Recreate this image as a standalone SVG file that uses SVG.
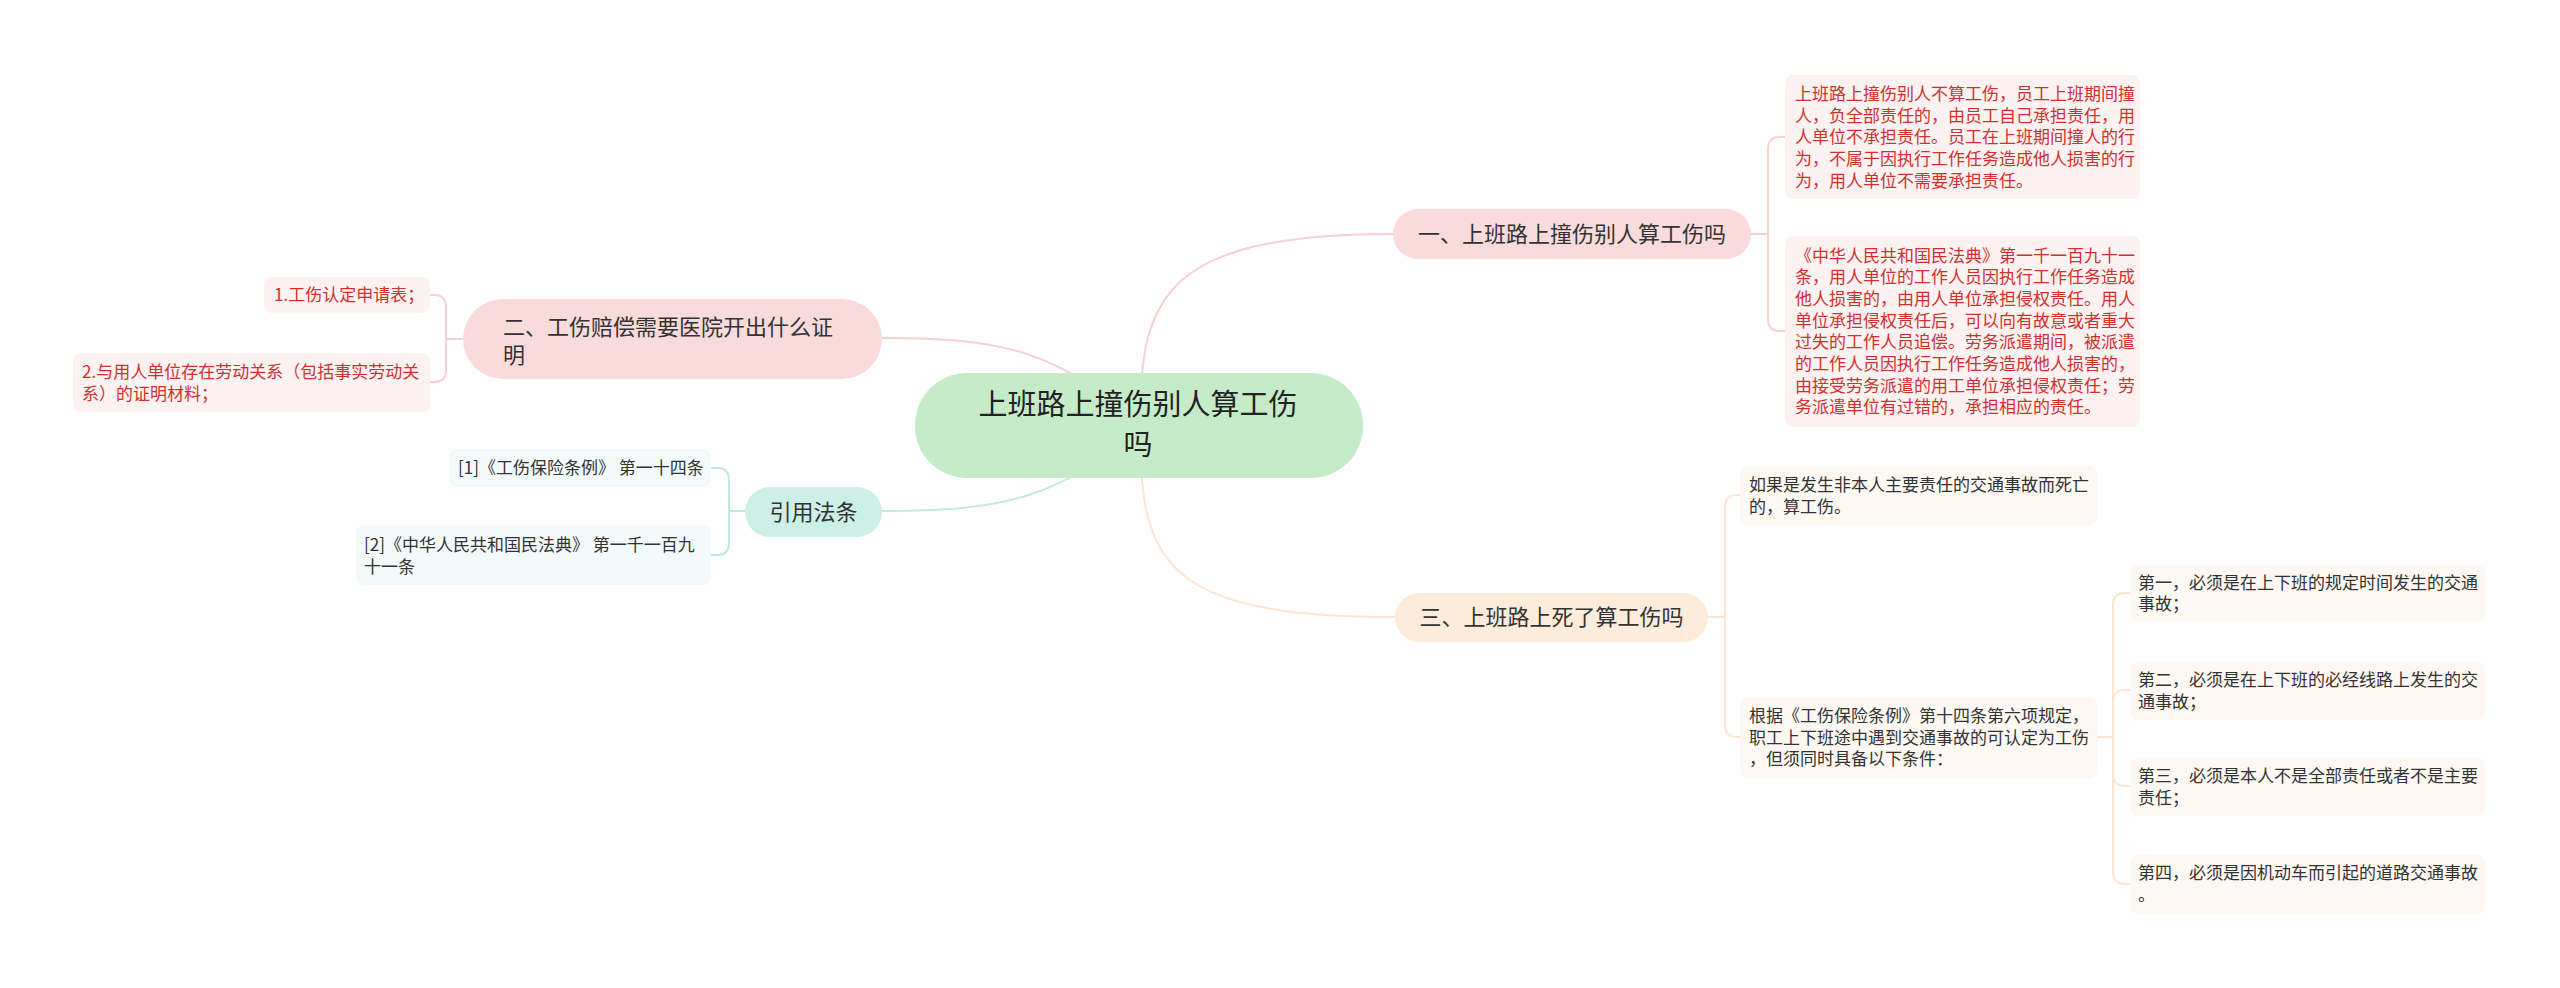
<svg xmlns="http://www.w3.org/2000/svg" width="2560" height="988" viewBox="0 0 2560 988">
<style>
text{font-family:"Noto Sans CJK SC","Noto Sans",sans-serif;}
.main{font-size:22px;fill:#333333;}
.root{font-size:29px;fill:#222222;}
.leaf{font-size:17px;fill:#333333;}
.red{font-size:17px;fill:#d0312d;}
.lp{fill:#fdf2f2;}
.lc{fill:#fdf8f2;}
.lt{fill:#f3fafa;}
.cp{fill:none;stroke:#f7d0d0;stroke-width:2;}
.cc{fill:none;stroke:#bfe9e1;stroke-width:2;}
.co{fill:none;stroke:#fce6d0;stroke-width:2;}
</style>
<rect width="2560" height="988" fill="#ffffff"/>
<g id="connectors">
<path class="cp" d="M1140,426 C1140,300 1160,234 1393,234"/>
<path class="cp" d="M882,338 C1000,338 1060,350 1139,426"/>
<path class="cc" d="M882,511 C1000,511 1060,500 1139,426"/>
<path class="co" d="M1140,426 C1140,560 1160,617 1395,617"/>
<path class="cp" d="M1751,234 H1768 V149 Q1768,137 1780,137 H1785"/>
<path class="cp" d="M1751,234 H1768 V319 Q1768,331 1780,331 H1785"/>
<path class="cp" d="M463,339 H446 V307 Q446,295 434,295 H430"/>
<path class="cp" d="M463,339 H446 V370 Q446,382 434,382 H430"/>
<path class="cc" d="M745,511 H729 V480 Q729,468 717,468 H711"/>
<path class="cc" d="M745,511 H729 V543 Q729,555 717,555 H711"/>
<path class="co" d="M1708,617 H1725 V507 Q1725,495 1737,495 H1740"/>
<path class="co" d="M1708,617 H1725 V725 Q1725,737 1737,737 H1740"/>
<path class="co" d="M2097,737 H2113 V605 Q2113,593 2125,593 H2130"/>
<path class="co" d="M2097,737 H2113 V702 Q2113,690 2125,690 H2130"/>
<path class="co" d="M2097,737 H2113 V774 Q2113,786 2125,786 H2130"/>
<path class="co" d="M2097,737 H2113 V872 Q2113,884 2125,884 H2130"/>
</g>
<g id="root">
<rect x="915" y="373" width="448" height="105" rx="52" fill="#c6ebc9"/>
<text class="root" x="1138" y="415" text-anchor="middle">上班路上撞伤别人算工伤</text>
<text class="root" x="1138" y="455" text-anchor="middle">吗</text>
</g>
<g id="n1">
<rect x="1393" y="209" width="358" height="50" rx="25" fill="#fadbdb"/>
<text class="main" x="1572" y="242" text-anchor="middle">一、上班路上撞伤别人算工伤吗</text>
</g>
<g id="n2">
<rect x="463" y="299" width="419" height="80" rx="40" fill="#fadbdb"/>
<text class="main" x="503" y="335">二、工伤赔偿需要医院开出什么证</text>
<text class="main" x="503" y="363">明</text>
</g>
<g id="n_ref">
<rect x="745" y="487" width="137" height="50" rx="25" fill="#ccefe8"/>
<text class="main" x="813.5" y="520" text-anchor="middle">引用法条</text>
</g>
<g id="n3">
<rect x="1395" y="593" width="313" height="49" rx="24.5" fill="#fdecdb"/>
<text class="main" x="1551.5" y="625" text-anchor="middle">三、上班路上死了算工伤吗</text>
</g>
<g id="l1a">
<rect class="lp" x="1785" y="75" width="355" height="124" rx="8"/>
<text class="red" x="1795" y="100">上班路上撞伤别人不算工伤，员工上班期间撞</text>
<text class="red" x="1795" y="122">人，负全部责任的，由员工自己承担责任，用</text>
<text class="red" x="1795" y="143">人单位不承担责任。员工在上班期间撞人的行</text>
<text class="red" x="1795" y="165">为，不属于因执行工作任务造成他人损害的行</text>
<text class="red" x="1795" y="187">为，用人单位不需要承担责任。</text>
</g>
<g id="l1b">
<rect class="lp" x="1785" y="236" width="355" height="191" rx="8"/>
<text class="red" x="1795" y="262">《中华人民共和国民法典》第一千一百九十一</text>
<text class="red" x="1795" y="283">条，用人单位的工作人员因执行工作任务造成</text>
<text class="red" x="1795" y="305">他人损害的，由用人单位承担侵权责任。用人</text>
<text class="red" x="1795" y="327">单位承担侵权责任后，可以向有故意或者重大</text>
<text class="red" x="1795" y="348">过失的工作人员追偿。劳务派遣期间，被派遣</text>
<text class="red" x="1795" y="370">的工作人员因执行工作任务造成他人损害的，</text>
<text class="red" x="1795" y="392">由接受劳务派遣的用工单位承担侵权责任；劳</text>
<text class="red" x="1795" y="413">务派遣单位有过错的，承担相应的责任。</text>
</g>
<g id="l2a">
<rect class="lp" x="264" y="277" width="166" height="36" rx="8"/>
<text class="red" x="274" y="301">1.工伤认定申请表；</text>
</g>
<g id="l2b">
<rect class="lp" x="73" y="353" width="357" height="59" rx="8"/>
<text class="red" x="82" y="378">2.与用人单位存在劳动关系（包括事实劳动关</text>
<text class="red" x="82" y="400">系）的证明材料；</text>
</g>
<g id="lr1">
<rect class="lt" x="449" y="449" width="262" height="38" rx="8"/>
<text class="leaf" x="458" y="474">[1]《工伤保险条例》 第一十四条</text>
</g>
<g id="lr2">
<rect class="lt" x="356" y="525" width="355" height="60" rx="8"/>
<text class="leaf" x="364" y="551">[2]《中华人民共和国民法典》 第一千一百九</text>
<text class="leaf" x="364" y="573">十一条</text>
</g>
<g id="l3a">
<rect class="lc" x="1740" y="466" width="357" height="59" rx="8"/>
<text class="leaf" x="1749" y="491">如果是发生非本人主要责任的交通事故而死亡</text>
<text class="leaf" x="1749" y="513">的，算工伤。</text>
</g>
<g id="l3b">
<rect class="lc" x="1740" y="697" width="357" height="81" rx="8"/>
<text class="leaf" x="1749" y="722">根据《工伤保险条例》第十四条第六项规定，</text>
<text class="leaf" x="1749" y="744">职工上下班途中遇到交通事故的可认定为工伤</text>
<text class="leaf" x="1749" y="765">，但须同时具备以下条件：</text>
</g>
<g id="l3b1">
<rect class="lc" x="2130" y="565" width="355" height="57" rx="8"/>
<text class="leaf" x="2138" y="589">第一，必须是在上下班的规定时间发生的交通</text>
<text class="leaf" x="2138" y="610">事故；</text>
</g>
<g id="l3b2">
<rect class="lc" x="2130" y="662" width="355" height="58" rx="8"/>
<text class="leaf" x="2138" y="686">第二，必须是在上下班的必经线路上发生的交</text>
<text class="leaf" x="2138" y="708">通事故；</text>
</g>
<g id="l3b3">
<rect class="lc" x="2130" y="758" width="355" height="58" rx="8"/>
<text class="leaf" x="2138" y="782">第三，必须是本人不是全部责任或者不是主要</text>
<text class="leaf" x="2138" y="804">责任；</text>
</g>
<g id="l3b4">
<rect class="lc" x="2130" y="855" width="355" height="59" rx="8"/>
<text class="leaf" x="2138" y="879">第四，必须是因机动车而引起的道路交通事故</text>
<text class="leaf" x="2138" y="901">。</text>
</g>
</svg>
